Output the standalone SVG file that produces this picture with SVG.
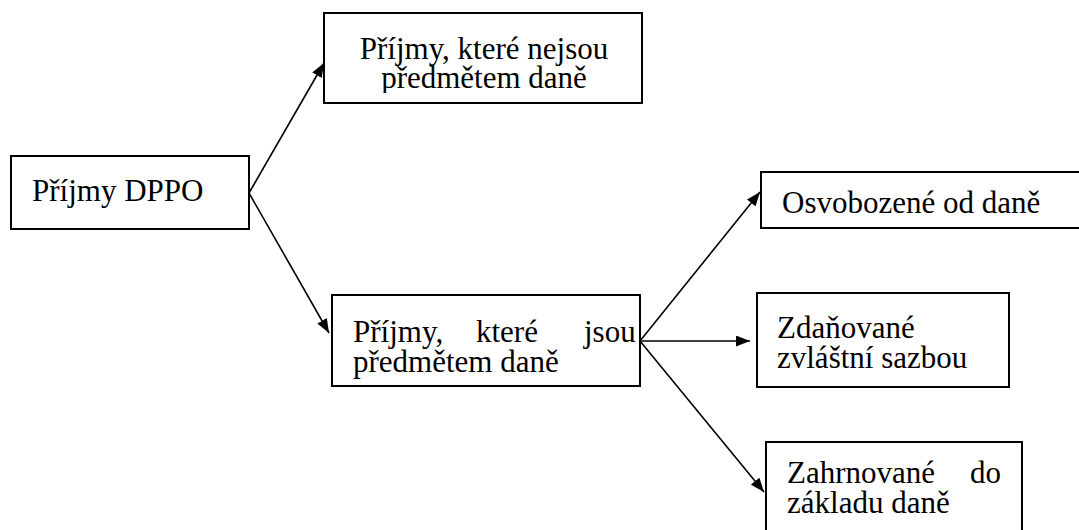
<svg xmlns="http://www.w3.org/2000/svg" width="1079" height="530" viewBox="0 0 1079 530">
<style>
.box{fill:#fff;stroke:#000;stroke-width:2}
.t{font-family:"Liberation Serif","Times New Roman",serif;font-size:31px;fill:#000}
.c{stroke:#000;stroke-width:1.6;fill:none}
</style>
<defs>
<marker id="ah" viewBox="0 0 14 11" refX="14" refY="5.5" markerWidth="14" markerHeight="11" markerUnits="userSpaceOnUse" orient="auto">
<path d="M0,0 L14,5.5 L0,11 Z" fill="#000"/>
</marker>
<clipPath id="clipTop"><rect x="324" y="12" width="318" height="81"/></clipPath>
</defs>
<rect width="1079" height="530" fill="#fff"/>
<g id="connectors">
<line class="c" x1="249" y1="193" x2="324" y2="63" marker-end="url(#ah)"/>
<line class="c" x1="249" y1="193" x2="329" y2="333" marker-end="url(#ah)"/>
<line class="c" x1="640" y1="341" x2="760" y2="192" marker-end="url(#ah)"/>
<line class="c" x1="640" y1="341" x2="750" y2="341" marker-end="url(#ah)"/>
<line class="c" x1="640" y1="341" x2="764" y2="492" marker-end="url(#ah)"/>
</g>
<g id="n-dppo">
<rect class="box" x="11" y="156" width="238" height="73"/>
<text class="t" x="32" y="201">Příjmy DPPO</text>
</g>
<g id="n-nejsou">
<rect class="box" x="324" y="13" width="318" height="90"/>
<g clip-path="url(#clipTop)">
<text class="t" text-anchor="middle"><tspan x="484" y="59">Příjmy, které nejsou</tspan><tspan x="484" y="88">předmětem daně</tspan></text>
</g>
</g>
<g id="n-jsou">
<rect class="box" x="332" y="295" width="308" height="91"/>
<text class="t"><tspan x="353" y="342">Příjmy,</tspan><tspan x="476" y="342">které</tspan><tspan x="584" y="342">jsou</tspan><tspan x="353" y="372">předmětem daně</tspan></text>
</g>
<g id="n-osvobozene">
<rect class="box" x="761" y="172" width="330" height="56"/>
<text class="t" x="782" y="213">Osvobozené od daně</text>
</g>
<g id="n-zdanovane">
<rect class="box" x="757" y="293" width="252" height="94"/>
<text class="t"><tspan x="777" y="338">Zdaňované</tspan><tspan x="777" y="368">zvláštní sazbou</tspan></text>
</g>
<g id="n-zahrnovane">
<rect class="box" x="766" y="442" width="256" height="100"/>
<text class="t"><tspan x="787" y="483">Zahrnované</tspan><tspan x="970" y="483">do</tspan><tspan x="787" y="513">základu daně</tspan></text>
</g>
</svg>
